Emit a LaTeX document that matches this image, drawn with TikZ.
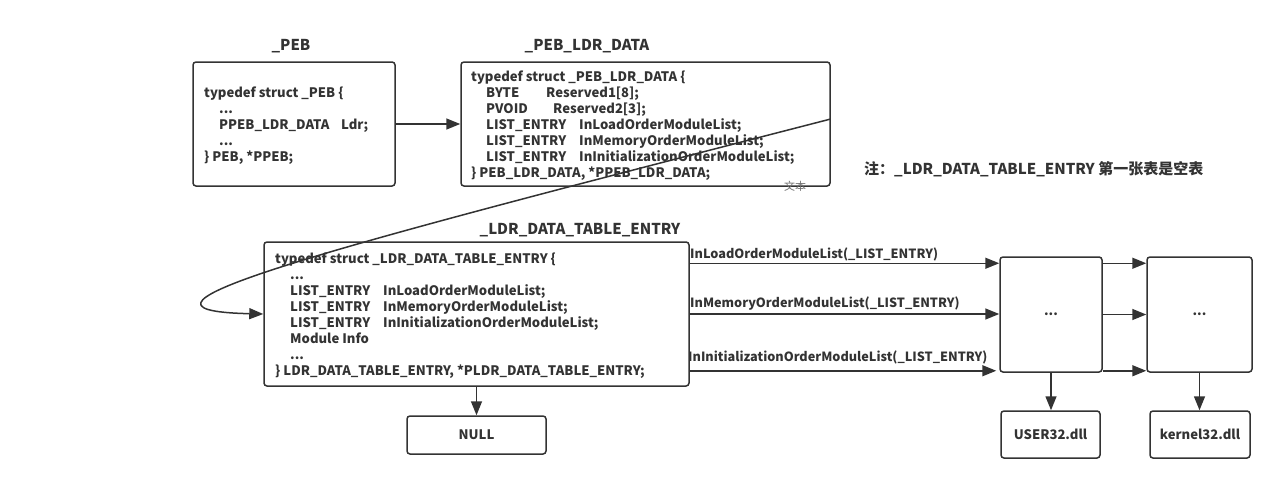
\documentclass[tikz,border=0pt]{standalone}
\usepackage{fontspec}
\setmainfont{Noto Sans CJK SC}
\usetikzlibrary{arrows.meta}
\definecolor{ink}{HTML}{333333}
\newcommand{\codefont}{\fontsize{13.1}{16}\selectfont\bfseries}
\newcommand{\lblfont}{\fontsize{12.7}{15}\selectfont\bfseries}
\newcommand{\titlefont}{\fontsize{15}{18}\selectfont\bfseries}
\begin{document}
\begin{tikzpicture}[x=1pt,y=-1pt,
 box/.style={draw=ink, line width=1.5pt, rounded corners=3pt, inner sep=0pt, fill=white, text=ink, font=\codefont},
 code/.style={anchor=west, align=left, inner sep=0pt, text=ink, font=\codefont},
 ttl/.style={text=ink, font=\titlefont, inner sep=0pt},
 arr/.style={draw=ink, line width=1.5pt, -{Triangle[length=14pt,width=11pt]}},
 lbl/.style={anchor=west, inner sep=0pt, text=ink, font=\lblfont}]
\useasboundingbox (0,0) rectangle (1278,482);
% boxes
\node[box, minimum width=202pt, minimum height=124pt] (peb) at (294,124) {};
\node[box, minimum width=369pt, minimum height=124pt] (ldrdata) at (645.5,124) {};
\node[box, minimum width=425pt, minimum height=144pt] (ldr) at (476.5,314) {};
\node[box, minimum width=139pt, minimum height=38pt] (null) at (476.5,435) {NULL};
\node[box, minimum width=102pt, minimum height=115pt] (A) at (1051,314.5) {...};
\node[box, minimum width=105pt, minimum height=115pt] (B) at (1199.5,314.5) {...};
\node[box, minimum width=99pt, minimum height=47pt] (user) at (1050.5,434.5) {USER32.dll};
\node[box, minimum width=100pt, minimum height=47pt] (kern) at (1200,434.5) {kernel32.dll};
% titles
\node[ttl] (t1) at (291,46) {\_PEB};
\node[ttl] (t2) at (587,46) {\_PEB\_LDR\_DATA};
\node[ttl] (t3) at (580,230) {\_LDR\_DATA\_TABLE\_ENTRY};
% code texts
\node[code] (pebtxt) at (204,126) {typedef struct \_PEB \{\\
\hspace*{15pt}...\\
\hspace*{15pt}\makebox[122pt][l]{PPEB\_LDR\_DATA}Ldr;\\
\hspace*{15pt}...\\
\} PEB, *PPEB;};
\node[code] (ldrdatatxt) at (471,125.5) {typedef struct \_PEB\_LDR\_DATA \{\\
\hspace*{15pt}\makebox[60pt][l]{BYTE}Reserved1[8];\\
\hspace*{15pt}\makebox[67pt][l]{PVOID}Reserved2[3];\\
\hspace*{15pt}\makebox[93pt][l]{LIST\_ENTRY}InLoadOrderModuleList;\\
\hspace*{15pt}\makebox[93pt][l]{LIST\_ENTRY}InMemoryOrderModuleList;\\
\hspace*{15pt}\makebox[93pt][l]{LIST\_ENTRY}InInitializationOrderModuleList;\\
\} PEB\_LDR\_DATA, *PPEB\_LDR\_DATA;};
\node[code] (ldrtxt) at (275,316) {typedef struct \_LDR\_DATA\_TABLE\_ENTRY \{\\
\hspace*{15pt}...\\
\hspace*{15pt}\makebox[93pt][l]{LIST\_ENTRY}InLoadOrderModuleList;\\
\hspace*{15pt}\makebox[93pt][l]{LIST\_ENTRY}InMemoryOrderModuleList;\\
\hspace*{15pt}\makebox[93pt][l]{LIST\_ENTRY}InInitializationOrderModuleList;\\
\hspace*{15pt}Module Info\\
\hspace*{15pt}...\\
\} LDR\_DATA\_TABLE\_ENTRY, *PLDR\_DATA\_TABLE\_ENTRY;};
% note
\node[anchor=west, inner sep=0pt, text=ink, font=\titlefont] (note) at (864,169) {注：\_LDR\_DATA\_TABLE\_ENTRY 第一张表是空表};
\node[inner sep=0pt, text=ink!70, font=\fontsize{11}{12}\selectfont] (wb) at (795,186) {文本};
% labels
\node[lbl] (l1) at (690,254) {InLoadOrderModuleList(\_LIST\_ENTRY)};
\node[lbl] (l2) at (690,304) {InMemoryOrderModuleList(\_LIST\_ENTRY)};
\node[lbl] (l3) at (688,357) {InInitializationOrderModuleList(\_LIST\_ENTRY)};
% arrows
\draw[arr] (peb.east) -- (ldrdata.west);
\draw[arr] ([yshift=5pt]ldrdata.east) .. controls (330,248) and (90,310) .. (ldr.west);
\draw[arr] (ldr.south) -- (null.north);
\draw[arr] ([yshift=-22pt]ldr.north east) -- ([yshift=-7pt]A.north west);
\draw[arr] (ldr.east) -- (ldr.east -| A.west);
\draw[arr] ([yshift=16pt]ldr.south east) -- ([xshift=-3pt,yshift=2pt]A.south west);
\draw[arr] ([yshift=-7pt]A.north east) -- ([yshift=-7pt]B.north west);
\draw[arr] (A.east) -- (A.east -| B.west);
\draw[arr] ([yshift=2pt]A.south east) -- ([yshift=2pt]B.south west);
\draw[arr] (A.south) -- (A.south |- user.north);
\draw[arr] (B.south) -- (B.south |- kern.north);
\end{tikzpicture}
\end{document}
